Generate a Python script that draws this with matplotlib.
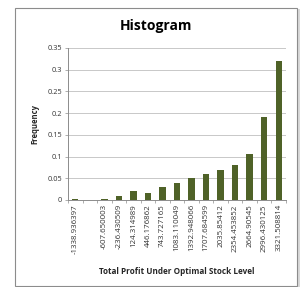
import matplotlib
matplotlib.use("Agg")
import matplotlib.pyplot as plt
from matplotlib.patches import Rectangle

categories = ["-1338.936397", "", "-607.650003", "-236.430509", "124.314989",
              "446.176862", "743.727165", "1083.110049", "1392.948066",
              "1707.684599", "2035.85412", "2354.453852", "2664.90545",
              "2996.430125", "3321.508814"]
frequency = [0.003, 0.0, 0.003, 0.01, 0.02, 0.016, 0.03, 0.04, 0.05,
             0.06, 0.07, 0.08, 0.105, 0.19, 0.32]
yticks = [0, 0.05, 0.1, 0.15, 0.2, 0.25, 0.3, 0.35]
ytick_labels = ["0", "0.05", "0.1", "0.15", "0.2", "0.25", "0.3", "0.35"]

plt.rcParams['font.family'] = ['Open Sans', 'DejaVu Sans']

W, H = 306, 287
fig = plt.figure(figsize=(W/100, H/100), dpi=100)

# chart-area border with shadow
fig.patches.append(Rectangle((17/W, 1-289/H), 283/W, 280/H, transform=fig.transFigure,
                             facecolor='#d9d9d9', edgecolor='none', zorder=-2))
fig.patches.append(Rectangle((15/W, 1-286/H), 282/W, 278/H, transform=fig.transFigure,
                             facecolor='white', edgecolor='#8c8c8c', linewidth=0.8, zorder=-1))

ax = fig.add_axes([68/W, 1-200/H, (286-68)/W, (200-48)/H])
x = list(range(len(categories)))
ax.bar(x, frequency, width=0.44, color='#4f6228', zorder=3)
ax.set_xlim(-0.5, len(categories)-0.5)
ax.set_ylim(0, 0.35)
ax.set_yticks(yticks)
ax.set_yticklabels(ytick_labels, fontsize=5.3, color='#333333')
ax.set_xticks(x)
ax.set_xticklabels(categories, rotation=90, fontsize=5.7, color='#333333')
ax.set_xticks([i - 0.5 for i in range(len(categories)+1)], minor=True)
ax.tick_params(axis='x', which='major', length=0, pad=3)
ax.tick_params(axis='x', which='minor', length=2.5, color='#a0a0a0', width=0.6)
ax.tick_params(axis='y', length=2.5, color='#a0a0a0', width=0.6, pad=2)
ax.grid(axis='y', color='#c8c8c8', linewidth=0.7, zorder=0)
for s in ['top', 'right']:
    ax.spines[s].set_visible(False)
for s in ['left', 'bottom']:
    ax.spines[s].set_color('#8c8c8c')
    ax.spines[s].set_linewidth(0.7)

fig.text(156/W, 1-26/H, "Histogram", ha='center', va='center', fontsize=10, fontweight='bold', color='black')
fig.text(35/W, 1-124/H, "Frequency", ha='center', va='center', rotation=90, fontsize=5.5, fontweight='bold', color='#262626')
fig.text(177/W, 1-272/H, "Total Profit Under Optimal Stock Level", ha='center', va='center', fontsize=5.9, fontweight='bold', color='#262626')

fig.savefig("out.png", dpi=100)
